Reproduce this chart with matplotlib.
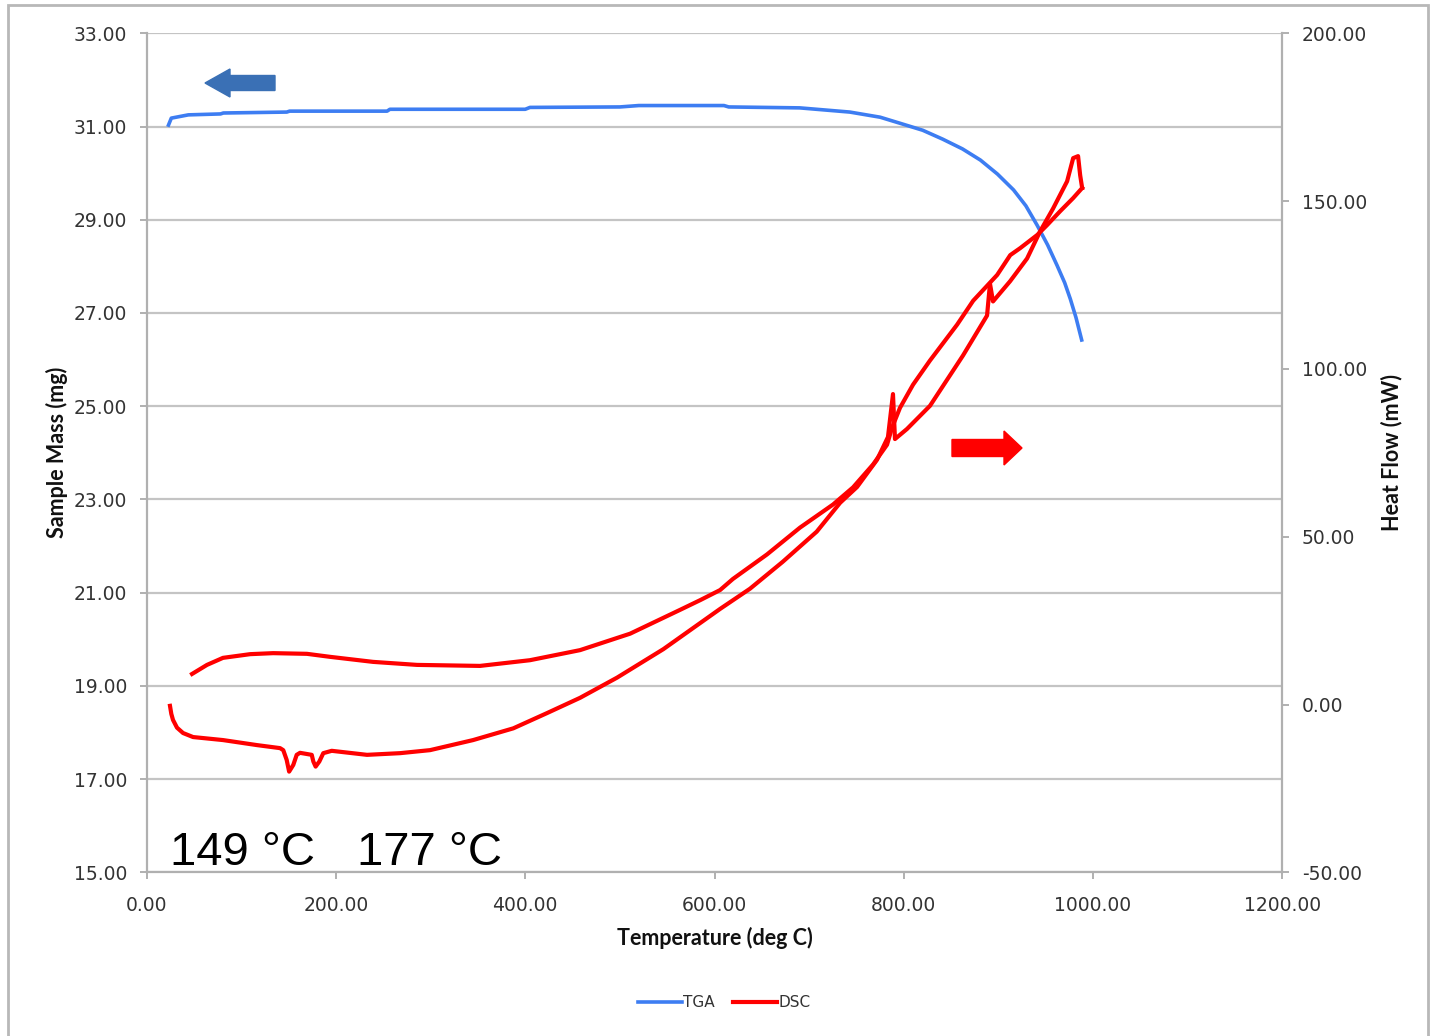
import matplotlib
matplotlib.use("Agg")
import matplotlib.pyplot as plt
from matplotlib.patches import FancyArrow, Rectangle

# --- data ---
tga_temp = [23, 26, 44, 78, 81, 148, 151, 254, 257, 310, 360, 400, 405, 500, 520,
            610, 615, 690, 743, 775, 796, 820, 841, 862, 881, 899, 916, 929, 941,
            952, 962, 970, 976, 982, 988]
tga_mass = [31.03, 31.18, 31.25, 31.27, 31.29, 31.31, 31.33, 31.33, 31.37, 31.37,
            31.37, 31.37, 31.41, 31.42, 31.45, 31.45, 31.42, 31.40, 31.31, 31.20,
            31.07, 30.92, 30.73, 30.52, 30.28, 29.98, 29.64, 29.30, 28.88,
            28.46, 28.02, 27.65, 27.30, 26.90, 26.42]

# heating run, 25 -> 990 C
heat_temp = [24.6, 26.0, 27.8, 32.0, 38.4, 49.0, 80.6, 116.6, 140.9, 144.3, 147.9,
             150.5, 154.9, 158.5, 162.0, 174.4, 176.1, 178.5, 182.4, 186.6, 195.5,
             232.8, 267.7, 299.4, 344.9, 387.4, 422.7, 458.0, 497.0, 546.0, 581.0,
             606.0, 637.5, 672.0, 708.0, 732.7, 750.6, 771.7, 783.3, 788.6, 790.7,
             803.4, 827.7, 862.6, 888.0, 891.1, 894.3, 912.3, 930.3, 944.1, 957.8,
             972.6, 979.0, 984.2, 986.4, 988.5]
heat_flow = [-0.4, -2.8, -4.6, -6.9, -8.5, -9.7, -10.6, -12.1, -13.0, -13.6, -16.5,
             -20.0, -18.0, -15.0, -14.4, -15.0, -17.0, -18.5, -17.0, -14.5, -13.8,
             -15.0, -14.5, -13.6, -10.6, -7.1, -2.6, 2.0, 8.0, 16.5, 23.5,
             28.5, 34.5, 42.5, 51.5, 60.1, 64.8, 72.9, 79.7, 92.5, 79.1,
             82.1, 89.0, 104.0, 115.9, 125.4, 120.1, 126.1, 132.9, 141.0, 147.8,
             155.9, 162.8, 163.4, 157.7, 153.9]

# cooling run, 990 -> 48 C
cool_temp = [988.5, 979.0, 965.3, 951.6, 941.0, 923.1, 912.5, 898.7, 873.3, 856.4,
             827.7, 809.8, 796.0, 787.6, 782.3, 767.5, 746.4, 725.3, 690.3, 655.4,
             619.4, 605.9, 584.9, 563.6, 510.8, 457.9, 405.0, 352.2, 285.7, 239.2,
             193.8, 169.3, 133.6, 109.3, 80.6, 63.7, 47.9]
cool_flow = [153.9, 150.9, 147.0, 142.9, 139.9, 136.0, 133.9, 128.0, 120.3, 113.2,
             102.5, 95.3, 88.4, 82.5, 77.4, 71.5, 64.7, 59.6, 52.7, 44.7,
             37.4, 34.1, 31.1, 28.2, 21.1, 16.2, 13.2, 11.5, 11.8, 12.7,
             14.2, 15.1, 15.3, 15.0, 13.9, 11.8, 9.1]

mass_ticks = [15, 17, 19, 21, 23, 25, 27, 29, 31, 33]
flow_ticks = [-50, 0, 50, 100, 150, 200]
temp_ticks = [0, 200, 400, 600, 800, 1000, 1200]

# --- style ---
plt.rcParams['font.family'] = 'DejaVu Sans'
grid_c = '#c4c4c4'
spine_c = '#b0b0b0'
text_c = '#333333'
blue = '#3d7df2'
red = '#ff0000'

fig = plt.figure(figsize=(14.31, 10.36), dpi=100)
fig.patches.append(Rectangle((8 / 1431, -0.01), 1420 / 1431, 1 - 5 / 1036 + 0.01,
                             transform=fig.transFigure, fill=False,
                             edgecolor='#b8b8b8', linewidth=2))

ax = fig.add_axes([0.10252, 0.15801, 0.79357, 0.80985])
ax2 = ax.twinx()

l1, = ax.plot(tga_temp, tga_mass, color=blue, linewidth=2.6, label='TGA',
              solid_joinstyle='round', zorder=3)
ax2.plot(heat_temp, heat_flow, color=red, linewidth=3, solid_joinstyle='round')
l2, = ax2.plot(cool_temp, cool_flow, color=red, linewidth=3, label='DSC',
               solid_joinstyle='round')

ax.set_xlim(0, 1200)
ax.set_ylim(15, 33)
ax2.set_ylim(-50, 200)
ax.set_xticks(temp_ticks)
ax.set_xticklabels([f"{t:.2f}" for t in temp_ticks])
ax.set_yticks(mass_ticks)
ax.set_yticklabels([f"{m:.2f}" for m in mass_ticks])
ax2.set_yticks(flow_ticks)
ax2.set_yticklabels([f"{f:.2f}" for f in flow_ticks])

ax.yaxis.grid(True, color=grid_c, linewidth=1.6)
ax.set_axisbelow(True)
for a in (ax, ax2):
    a.set_facecolor('none')
    for s in a.spines.values():
        s.set_visible(False)
    a.tick_params(direction='out', length=5, width=1.4, color=spine_c,
                  labelsize=13.5, labelcolor=text_c)
ax.spines['left'].set_visible(True)
ax.spines['bottom'].set_visible(True)
ax2.spines['right'].set_visible(True)
for s in (ax.spines['left'], ax.spines['bottom'], ax2.spines['right']):
    s.set_color(spine_c)
    s.set_linewidth(1.6)
ax.tick_params(axis='x', pad=12)
ax.tick_params(axis='y', pad=9)
ax2.tick_params(axis='y', pad=9)

lab = dict(fontsize=15.5, fontweight='bold', color='#111111', family='Lato')
ax.set_xlabel("Temperature (deg C)", **lab)
ax.set_ylabel("Sample Mass (mg)", **lab)
ax2.set_ylabel("Heat Flow (mW)", **lab)
ax.xaxis.label.set_va('center')
ax.yaxis.label.set_va('center')
ax2.yaxis.label.set_va('center')
ax.xaxis.set_label_coords(0.5, -0.078)
ax.yaxis.set_label_coords(-0.079, 0.5)
ax2.yaxis.set_label_coords(1.0966, 0.5)

# direction arrows (which axis each curve belongs to)
ax.add_patch(FancyArrow(2.75, 9.53, -0.45, 0, width=0.15, head_width=0.28,
                        head_length=0.25, length_includes_head=False,
                        color='#3a70b5', transform=fig.dpi_scale_trans))
ax.add_patch(FancyArrow(9.52, 5.88, 0.52, 0, width=0.17, head_width=0.34,
                        head_length=0.18, length_includes_head=False,
                        color=red, transform=fig.dpi_scale_trans))

# peak labels
fig.text(170 / 1431, 0.165, "149 °C", fontsize=34, family='Liberation Sans',
         va='baseline', color='black')
fig.text(357 / 1431, 0.165, "177 °C", fontsize=34, family='Liberation Sans',
         va='baseline', color='black')

fig.legend([l1, l2], ['TGA', 'DSC'], loc='center', bbox_to_anchor=(0.506, 0.032),
           ncol=2, frameon=False, fontsize=11, handlelength=2.9,
           handletextpad=0.05, columnspacing=1.2, labelcolor=text_c)

fig.savefig("out.png", dpi=100)
